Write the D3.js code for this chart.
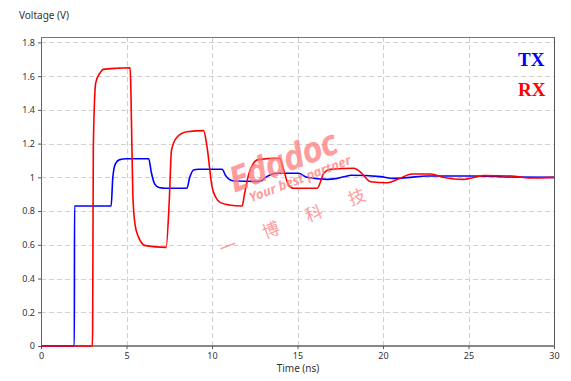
<!DOCTYPE html>
<html>
<head>
<meta charset="utf-8">
<script src="https://cdn.jsdelivr.net/npm/d3@7.9.0/dist/d3.min.js"></script>
<style>
  html, body { margin: 0; padding: 0; background: #fff; }
  #chart { width: 571px; height: 381px; }
  text { font-family: 'Noto Sans', 'DejaVu Sans', sans-serif; }
</style>
</head>
<body>
<div id="chart"></div>
<script>
// x ticks (ns) and y ticks (V)
const xTicks = [0, 5, 10, 15, 20, 25, 30];
const yTicks = [0, 0.2, 0.4, 0.6, 0.8, 1, 1.2, 1.4, 1.6, 1.8];

// TX waveform
const txTime = [0, 1.95, 1.96, 4.1, 4.2, 4.35, 4.6, 5.0, 6.3, 6.45, 6.65, 6.9, 7.3, 8.53, 8.7, 8.92, 9.2, 10.59, 10.8, 11.07, 11.37, 12.8, 13.2, 13.5, 13.79, 15.06, 15.55, 16.73, 17.32, 17.9, 18.1, 19.86, 20.6, 21.4, 22.6, 25.3, 27.5, 30];
const txVolt = [0, 0, 0.83, 0.83, 1.0, 1.08, 1.105, 1.11, 1.11, 1.03, 0.96, 0.94, 0.935, 0.935, 1.0, 1.044, 1.048, 1.048, 1.01, 0.984, 0.978, 0.976, 1.004, 1.018, 1.024, 1.024, 1.0, 0.988, 0.994, 1.008, 1.012, 1.004, 0.994, 0.998, 1.008, 1.008, 1.002, 1.0];

// RX waveform
const rxTime = [0, 3.0, 3.02, 3.06, 3.2, 3.46, 3.63, 4.5, 5.21, 5.25, 5.37, 5.5, 5.7, 6.1, 7.32, 7.5, 7.63, 7.95, 8.54, 9.51, 9.71, 10.0, 10.2, 10.5, 11.0, 11.76, 11.9, 12.15, 12.4, 12.7, 13.96, 14.19, 14.48, 14.78, 16.15, 16.54, 16.93, 18.3, 18.7, 19.27, 20.25, 20.9, 21.7, 22.8, 23.5, 24.16, 24.7, 25.9, 27.5, 28.6, 30];
const rxVolt = [0, 0, 0.1, 1.18, 1.56, 1.62, 1.64, 1.647, 1.65, 1.55, 0.9, 0.72, 0.647, 0.595, 0.585, 0.86, 1.16, 1.238, 1.27, 1.277, 1.18, 0.945, 0.885, 0.85, 0.836, 0.83, 0.9, 1.02, 1.08, 1.105, 1.113, 1.044, 0.955, 0.935, 0.935, 1.024, 1.048, 1.054, 1.03, 0.974, 0.968, 0.99, 1.02, 1.02, 1.0, 0.99, 0.988, 1.01, 1.008, 0.996, 1.0];

const legendLabels = ['TX', 'RX'];
const colorTX = '#0000ff';
const colorRX = '#ff0000';

const width = 571;
const height = 381;
const margin = { top: 37, right: 17, bottom: 35, left: 41 };
const innerW = width - margin.left - margin.right;
const innerH = height - margin.top - margin.bottom;

const svg = d3.select('#chart')
  .append('svg')
  .attr('width', width)
  .attr('height', height);

const xScale = d3.scaleLinear().domain([0, 30]).range([0, innerW]);
const yScale = d3.scaleLinear().domain([0, 1.832]).range([innerH, 0]);

const g = svg.append('g')
  .attr('transform', `translate(${margin.left},${margin.top})`);

// grid
g.append('g')
  .selectAll('line')
  .data(yTicks.filter((d) => d > 0))
  .join('line')
  .attr('x1', 0)
  .attr('x2', innerW)
  .attr('y1', (d) => Math.round(yScale(d)) + 0.5)
  .attr('y2', (d) => Math.round(yScale(d)) + 0.5)
  .attr('stroke', '#d0d0d0')
  .attr('stroke-dasharray', '5,3');

g.append('g')
  .selectAll('line')
  .data(xTicks.filter((d) => d > 0 && d < 30))
  .join('line')
  .attr('x1', (d) => Math.round(xScale(d)) + 0.5)
  .attr('x2', (d) => Math.round(xScale(d)) + 0.5)
  .attr('y1', 0)
  .attr('y2', innerH)
  .attr('stroke', '#d0d0d0')
  .attr('stroke-dasharray', '5,3');

// watermark
const wm = svg.append('g')
  .attr('transform', 'translate(284,165) rotate(-21)')
  .attr('fill', '#ff7b7b')
  .attr('opacity', 0.75);

wm.append('text')
  .attr('x', 0)
  .attr('y', 8)
  .attr('text-anchor', 'middle')
  .style('font-size', '35px')
  .style('font-weight', 'bold')
  .style('font-style', 'italic')
  .style('letter-spacing', '-1px')
  .text('Edadoc');

wm.append('text')
  .attr('x', 10)
  .attr('y', 23)
  .attr('text-anchor', 'middle')
  .style('font-size', '13px')
  .style('font-weight', 'bold')
  .style('font-style', 'italic')
  .text('Your best partner');

wm.append('text')
  .attr('x', 2)
  .attr('y', 62)
  .attr('text-anchor', 'middle')
  .style('font-family', "'Noto Sans CJK SC', sans-serif")
  .style('font-size', '17px')
  .style('letter-spacing', '29px')
  .text('一博科技');

// frame
const axisColor = '#666';
g.append('line')
  .attr('x1', 0.5).attr('x2', 0.5).attr('y1', 0).attr('y2', innerH)
  .attr('stroke', axisColor);
g.append('line')
  .attr('x1', 0).attr('x2', innerW).attr('y1', 0.5).attr('y2', 0.5)
  .attr('stroke', '#777');
g.append('line')
  .attr('x1', innerW + 0.5).attr('x2', innerW + 0.5).attr('y1', 0).attr('y2', innerH)
  .attr('stroke', '#555');
g.append('line')
  .attr('x1', 0).attr('x2', innerW + 1).attr('y1', innerH).attr('y2', innerH)
  .attr('stroke', '#888')
  .attr('stroke-width', 2);

// axes
const yAxis = g.append('g')
  .call(d3.axisLeft(yScale).tickValues(yTicks).tickSize(3).tickPadding(3)
    .tickFormat((d) => d3.format('')(+d.toFixed(1))));
const xAxis = g.append('g')
  .attr('transform', `translate(0,${innerH})`)
  .call(d3.axisBottom(xScale).tickValues(xTicks).tickSize(3).tickPadding(4));

[xAxis, yAxis].forEach((a) => {
  a.select('.domain').remove();
  a.selectAll('.tick line').attr('stroke', '#555');
  a.selectAll('text')
    .attr('fill', '#333')
    .style('font-size', '9px')
    .style('font-family', "'Noto Sans', 'DejaVu Sans', sans-serif");
});

// lines
const line = d3.line()
  .x((d) => xScale(d[0]))
  .y((d) => yScale(d[1]))
  .curve(d3.curveMonotoneX);

const txData = txTime.map((t, i) => [t, txVolt[i]]);
const rxData = rxTime.map((t, i) => [t, rxVolt[i]]);

g.append('path')
  .datum(txData)
  .attr('d', line)
  .attr('fill', 'none')
  .attr('stroke', colorTX)
  .attr('stroke-width', 1.6);

g.append('path')
  .datum(rxData)
  .attr('d', line)
  .attr('fill', 'none')
  .attr('stroke', colorRX)
  .attr('stroke-width', 1.6);

// axis titles
svg.append('text')
  .attr('x', 19)
  .attr('y', 19)
  .attr('fill', '#333')
  .style('font-size', '10px')
  .text('Voltage (V)');

svg.append('text')
  .attr('x', 298)
  .attr('y', 372)
  .attr('text-anchor', 'middle')
  .attr('fill', '#333')
  .style('font-size', '10px')
  .text('Time (ns)');

// legend
svg.selectAll('text.legend')
  .data(legendLabels)
  .join('text')
  .attr('class', 'legend')
  .attr('x', 518)
  .attr('y', (d, i) => 66 + i * 30)
  .attr('fill', (d, i) => (i === 0 ? colorTX : colorRX))
  .style('font-family', "'Liberation Serif', 'DejaVu Serif', serif")
  .style('font-weight', 'bold')
  .style('font-size', '19px')
  .text((d) => d);
</script>
</body>
</html>
